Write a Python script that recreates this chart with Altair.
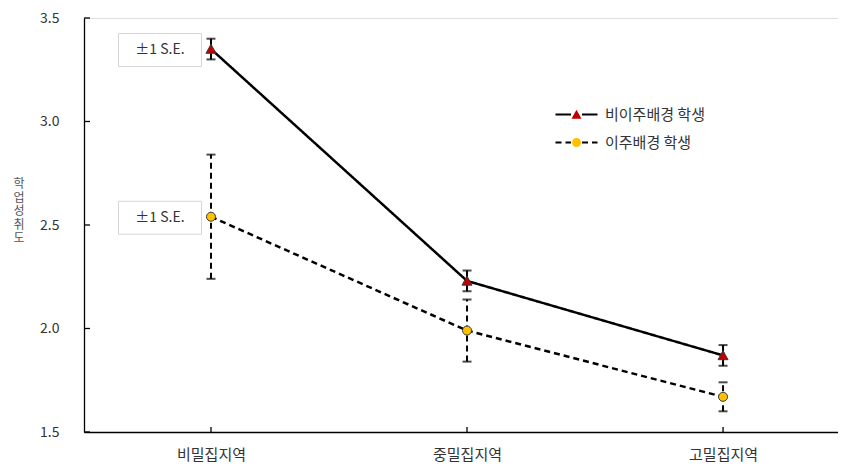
import json
import altair as alt
import pandas as pd

categories = ["비밀집지역", "중밀집지역", "고밀집지역"]
series_names = ["비이주배경 학생", "이주배경 학생"]
nonmig_mean = [3.35, 2.23, 1.87]
nonmig_se = [0.05, 0.05, 0.05]
mig_mean = [2.54, 1.99, 1.67]
mig_se = [0.30, 0.15, 0.07]
y_ticks = [1.5, 2.0, 2.5, 3.0, 3.5]
x_ticks = [0, 1, 2]
annotation_text = "±1 S.E."
y_title = ["학", "업", "성", "취", "도"]

FONT = "Noto Sans CJK KR"
TXT = "#333333"

# marker legend uses a distinct (hidden-label) domain so it is not merged with the line legend
marker_names = [s + "\u200b" for s in series_names]

rows = []
for k, (s, means, ses) in enumerate([(series_names[0], nonmig_mean, nonmig_se),
                                     (series_names[1], mig_mean, mig_se)]):
    for i, (m, e) in enumerate(zip(means, ses)):
        rows.append({"idx": i, "series": s, "series_m": marker_names[k],
                     "mean": m, "lo": m - e, "hi": m + e})
df = pd.DataFrame(rows)

ann_df = pd.DataFrame({"idx": [0, 0], "mean": [nonmig_mean[0], mig_mean[0]],
                       "text": [annotation_text, annotation_text]})
ytick_df = pd.DataFrame({"mean": y_ticks})
xtick_df = pd.DataFrame({"idx": x_ticks})
title_df = pd.DataFrame({"t": [y_title]})

W, H = 754, 414
x_scale = alt.Scale(domain=[-0.496, 2.449], nice=False, zero=False)
y_scale = alt.Scale(domain=[1.5, 3.5], nice=False, zero=False)

label_expr = json.dumps(categories, ensure_ascii=False) + "[datum.value]"
x_axis = alt.Axis(values=x_ticks, labelExpr=label_expr, ticks=False, tickSize=0,
                  grid=False, title=None, labelFont=FONT, labelFontSize=15,
                  labelColor=TXT, labelPadding=15, labelFlush=False,
                  domainColor="#000000", domainWidth=1.3)
y_axis = alt.Axis(values=y_ticks, format=".1f", ticks=False, tickSize=0,
                  grid=False, title=None, labelFont=FONT, labelFontSize=14,
                  labelColor=TXT, labelPadding=25, labelFlush=False,
                  domainColor="#000000", domainWidth=1.3)


def X(field="idx"):
    return alt.X(f"{field}:Q", scale=x_scale, axis=x_axis)


def Y(field="mean"):
    return alt.Y(f"{field}:Q", scale=y_scale, axis=y_axis)


base = alt.Chart(df)

tri_path = "M-1,0.85L0,-0.95L1,0.85Z"
circ_path = "M0.9,0A0.9,0.9 0 1,1 -0.9,0A0.9,0.9 0 1,1 0.9,0Z"
legend_line_path = "M-4.2,0H-1.1M1.1,0H4.2"
box_path = "M-8.3,-3.3H8.3V3.3H-8.3Z"

legend_common = dict(orient="none", legendX=485, legendY=89, title=None,
                     symbolSize=100, labelFont=FONT, labelFontSize=15,
                     rowPadding=12, labelLimit=300)

lines = base.mark_line(color="black", strokeWidth=2.5).encode(
    x=X(), y=Y(),
    strokeDash=alt.StrokeDash(
        "series:N",
        scale=alt.Scale(domain=series_names, range=[[1, 0], [6, 4]]),
        legend=alt.Legend(symbolType=legend_line_path, symbolStrokeColor="black",
                          symbolStrokeWidth=2.2, symbolFillColor="transparent",
                          labelOffset=21, labelColor=TXT, **legend_common),
    ),
    detail="series:N",
)

err_solid = base.transform_filter(alt.datum.series == series_names[0]).mark_rule(
    color="black", strokeWidth=2).encode(x=X(), y=Y("lo"), y2="hi:Q")
err_dash = base.transform_filter(alt.datum.series == series_names[1]).mark_rule(
    color="black", strokeWidth=2, strokeDash=[6, 4]).encode(x=X(), y=Y("lo"), y2="hi:Q")
cap_lo = base.mark_tick(color="black", orient="horizontal", size=9, thickness=2).encode(
    x=X(), y=Y("lo"))
cap_hi = base.mark_tick(color="black", orient="horizontal", size=9, thickness=2).encode(
    x=X(), y=Y("hi"))

marker_legend = dict(symbolStrokeColor="#3a3a3a", symbolStrokeWidth=1,
                     labelOpacity=0, labelOffset=21, symbolOpacity=1, **legend_common)
markers = base.mark_point(filled=True, size=100, stroke="#3a3a3a", strokeWidth=1,
                          opacity=1).encode(
    x=X(), y=Y(),
    shape=alt.Shape("series_m:N",
                    scale=alt.Scale(domain=marker_names, range=[tri_path, circ_path]),
                    legend=alt.Legend(**marker_legend)),
    fill=alt.Fill("series_m:N",
                  scale=alt.Scale(domain=marker_names, range=["#C00000", "#FFC000"]),
                  legend=alt.Legend(**marker_legend)),
)

ann_box = alt.Chart(ann_df).mark_point(shape=box_path, size=100, filled=True,
                                       fill="white", stroke="#d6d6d6", strokeWidth=1,
                                       opacity=1, xOffset=-51, yOffset=1).encode(
    x=X(), y=Y())
ann_text = alt.Chart(ann_df).mark_text(dx=-51, dy=1, font=FONT, fontSize=14,
                                       color=TXT, align="center",
                                       baseline="middle").encode(
    x=X(), y=Y(), text="text:N")

ytick_marks = alt.Chart(ytick_df).mark_rule(color="black", strokeWidth=1.3).encode(
    y=Y(), x=alt.value(0), x2=alt.value(6))
xtick_marks = alt.Chart(xtick_df).mark_rule(color="black", strokeWidth=1.3).encode(
    x=X(), y=alt.value(H - 5), y2=alt.value(H))

y_title_mark = alt.Chart(title_df).mark_text(
    font=FONT, fontSize=12, lineHeight=13.5, color="#555555",
    align="center", baseline="middle").encode(
    text="t", x=alt.value(-65), y=alt.value(166))

chart = alt.layer(
    ann_box, ann_text, ytick_marks, xtick_marks, lines,
    err_solid, err_dash, cap_lo, cap_hi, markers, y_title_mark
).properties(
    width=W, height=H,
    autosize=alt.AutoSizeParams(type="none"),
    padding={"left": 76, "top": 10, "right": 0, "bottom": 34},
).configure_view(stroke=None).configure(background="white")

chart.save("out.html", embed_options={"renderer": "svg", "actions": False})
